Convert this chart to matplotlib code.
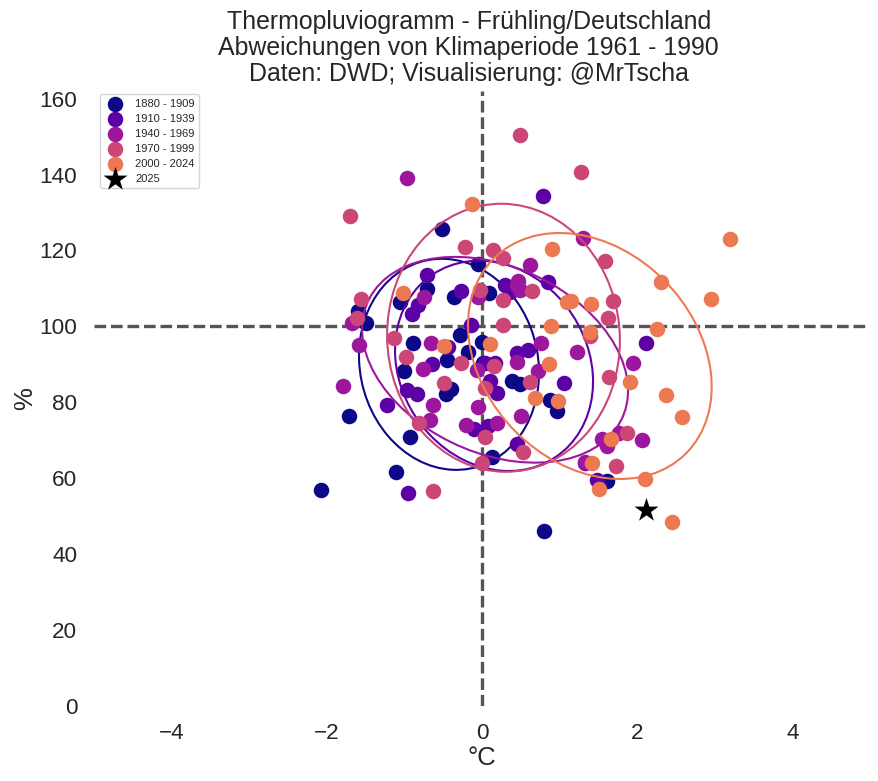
import matplotlib
matplotlib.use("Agg")
import matplotlib.pyplot as plt
import matplotlib.transforms as transforms
from matplotlib.patches import Ellipse
import numpy as np

plt.rcParams['font.family'] = ['Liberation Sans', 'DejaVu Sans']

# Abweichungen je Periode: Temperatur (°C), Niederschlag (%)
t_1880 = [-0.52, -0.05, 0.09, -0.36, -0.71, -1.06, -1.60, -1.49, -0.89, -0.28, 0.00, -0.18, -0.45, -1.01,
          0.01, -0.40, -0.46, -1.71, -0.93, 0.13, -1.11, -2.07, 0.39, 0.49, 0.80, 0.88, 0.97, 1.61]
p_1880 = [125.7, 116.5, 108.8, 107.8, 109.9, 106.5, 104.1, 100.9, 95.7, 97.8, 95.9, 93.3, 91.2, 88.3,
          90.4, 83.5, 82.2, 76.4, 70.9, 65.6, 61.7, 56.9, 85.6, 84.8, 46.1, 80.6, 77.7, 59.3]

t_1910 = [-0.71, -0.90, -0.82, -0.27, 0.30, 0.36, -0.14, 0.79, 0.85, 2.11, -0.44, -0.64, -0.97, -0.84,
          -1.22, -0.95, -0.10, 0.08, 0.45, 0.59, 0.17, 0.04, 0.10, 0.19, 1.06, 0.45, 1.33, 1.48]
p_1910 = [113.6, 103.3, 105.7, 109.4, 110.9, 109.1, 100.4, 134.4, 111.7, 95.7, 94.6, 90.1, 83.3, 82.2,
          79.3, 56.1, 73.0, 73.8, 93.0, 93.8, 90.4, 90.4, 85.6, 82.5, 85.1, 69.0, 64.0, 59.6]

t_1940 = [-0.97, -0.05, -0.75, -1.68, 0.45, 0.62, 0.46, 0.49, 1.30, -1.59, -0.66, -0.76, -1.79, -0.63, -0.67,
          -0.05, -0.21, 0.19, -0.06, 0.76, 1.22, 0.45, 0.72, 1.95, 0.50, 1.55, 1.61, 1.77, 2.06, 1.33]
p_1940 = [139.1, 107.8, 107.8, 100.9, 110.9, 116.2, 112.0, 109.6, 123.3, 95.1, 95.7, 88.8, 84.3, 79.3, 75.4,
          78.8, 74.0, 74.6, 88.5, 95.7, 93.3, 90.6, 88.3, 90.4, 76.4, 70.4, 68.5, 71.9, 70.1, 64.3]

t_1970 = [-1.70, -0.22, 0.14, 0.27, -1.56, -0.03, 0.27, 0.27, -1.61, 0.49, 1.28, 1.59, 0.64, 1.69, 1.62, 1.39,
          -1.13, -0.98, -0.27, 0.15, -0.49, 0.04, -0.81, 0.04, 0.00, -0.63, 0.62, 0.53, 1.64, 1.87, 1.73]
p_1970 = [129.1, 120.9, 120.2, 118.1, 107.2, 109.6, 107.0, 100.4, 102.2, 150.5, 140.7, 117.3, 109.4, 106.7, 102.2, 97.5,
          97.0, 92.0, 90.4, 89.6, 85.1, 83.8, 74.6, 70.9, 64.0, 56.7, 85.4, 66.9, 86.7, 71.9, 63.2]

t_2000 = [-0.13, -1.02, 3.20, 0.90, 2.31, 2.95, 1.10, 1.15, 1.40, 2.26, 0.89, 1.39, -0.49,
          0.10, 0.86, 0.68, 0.98, 1.91, 2.37, 2.58, 1.66, 1.42, 2.10, 1.51, 2.45]
p_2000 = [132.3, 108.8, 123.1, 120.4, 111.7, 107.2, 106.5, 106.7, 105.9, 99.3, 100.1, 98.6, 94.9,
          95.4, 90.1, 81.2, 80.4, 85.4, 82.0, 76.2, 70.4, 64.0, 59.8, 57.2, 48.5]

t_2025 = [2.11]
p_2025 = [51.6]

labels = ["1880 - 1909", "1910 - 1939", "1940 - 1969", "1970 - 1999", "2000 - 2024"]
colors = ["#0d0887", "#5c01a6", "#9c179e", "#cc4778", "#ed7953"]
temps = [t_1880, t_1910, t_1940, t_1970, t_2000]
precs = [p_1880, p_1910, p_1940, p_1970, p_2000]

# Ellipsen: Mitte, halbe Ausdehnung, Korrelation
ell_cx = [-0.425, 0.155, 0.168, 0.277, 1.39]
ell_cy = [90.0, 89.6, 91.2, 97.0, 92.2]
ell_sx = [1.16, 1.276, 1.714, 1.50, 1.57]
ell_sy = [27.8, 27.7, 27.1, 35.3, 32.4]
ell_rho = [-0.08, -0.15, -0.30, -0.02, -0.25]


def draw_ellipse(ax, cx, cy, sx, sy, rho, color):
    ell = Ellipse((0, 0), width=2 * np.sqrt(1 + rho), height=2 * np.sqrt(1 - rho),
                  facecolor="none", edgecolor=color, linewidth=1.5)
    trans = transforms.Affine2D().rotate_deg(45).scale(sx, sy).translate(cx, cy)
    ell.set_transform(trans + ax.transData)
    ax.add_patch(ell)


fig = plt.figure(figsize=(8.79, 7.81), dpi=100)
ax = fig.add_axes([94 / 879, 1 - 706 / 781, 776 / 879, 615 / 781])

for i in range(len(labels)):
    ax.scatter(temps[i], precs[i], s=125, color=colors[i], label=labels[i], linewidths=0)
    draw_ellipse(ax, ell_cx[i], ell_cy[i], ell_sx[i], ell_sy[i], ell_rho[i], colors[i])

ax.scatter(t_2025, p_2025, s=330, color="black", marker="*", label="2025", zorder=5, linewidths=0)

ax.axhline(100, color="#555555", linewidth=2.4, dashes=(3.5, 1.45), zorder=0.5)
ax.axvline(0, color="#555555", linewidth=2.4, dashes=(3.5, 1.45), zorder=0.5)

ax.set_xlim(-5, 5)
ax.set_ylim(0, 162)
ax.set_yticks(range(0, 161, 20))
ax.set_xticks([-4, -2, 0, 2, 4])
ax.tick_params(length=0, labelsize=16.2, colors="#262626", pad=12)
for s in ax.spines.values():
    s.set_visible(False)

ax.set_xlabel("°C", fontsize=18.5, color="#262626", labelpad=1.5)
ax.set_ylabel("%", fontsize=18.5, color="#262626", labelpad=2)
ax.set_title("Thermopluviogramm - Frühling/Deutschland\nAbweichungen von Klimaperiode 1961 - 1990\n"
             "Daten: DWD; Visualisierung: @MrTscha", fontsize=17.9, color="#262626", pad=7, x=0.483,
             linespacing=1.12)

ax.legend(loc="upper left", bbox_to_anchor=(0.0072, 0.995), fontsize=8, labelspacing=0.45,
          borderaxespad=0, fancybox=True, framealpha=0.8, labelcolor="#262626")

fig.savefig("out.png", dpi=100)
